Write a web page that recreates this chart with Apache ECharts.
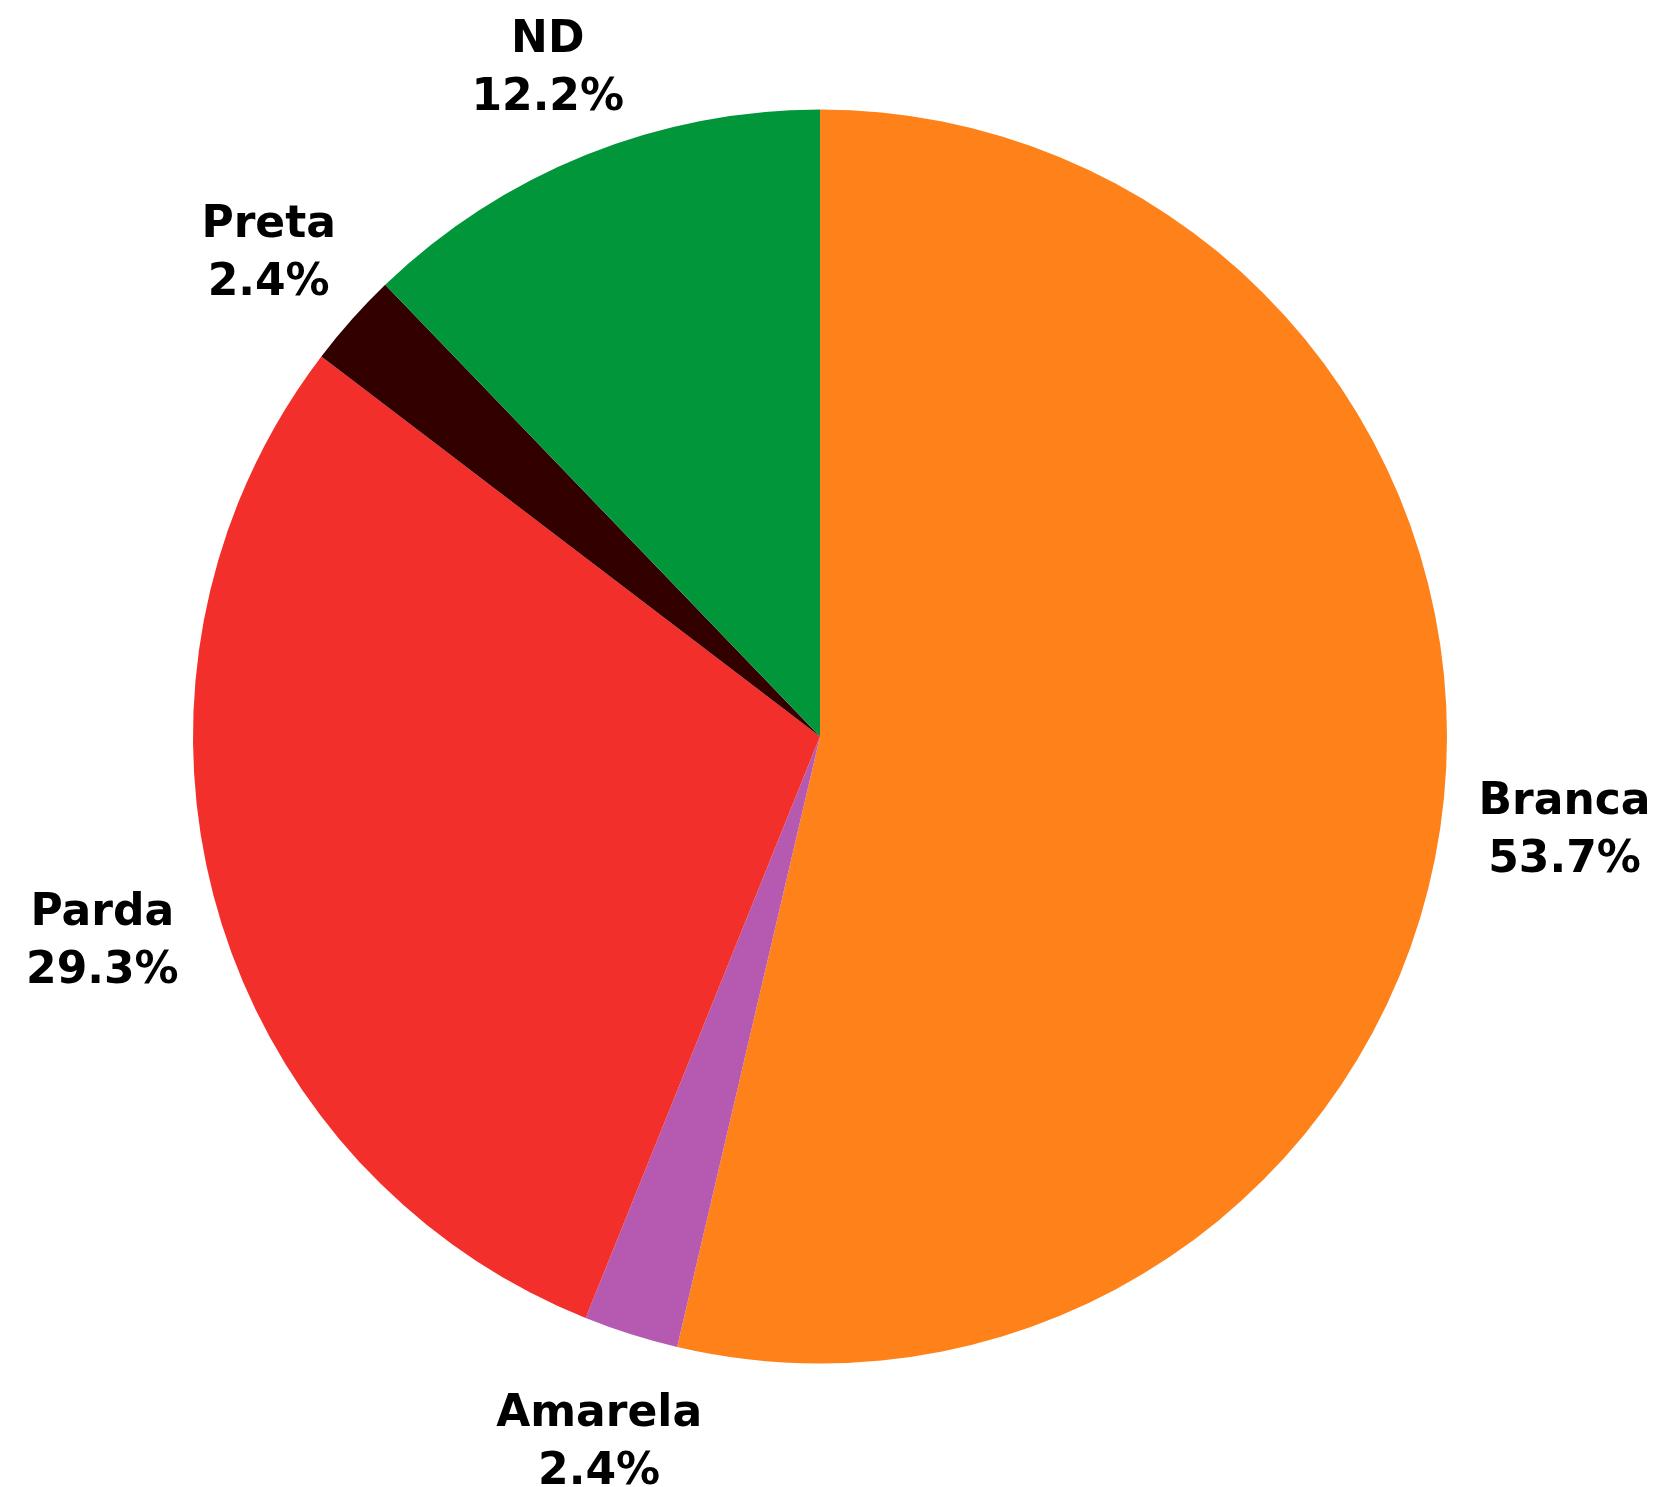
<!DOCTYPE html>
<html>
<head>
<meta charset="utf-8">
<style>
  html, body { margin: 0; padding: 0; background: #ffffff; }
  #chart { width: 1663px; height: 1487px; }
</style>
<script src="https://cdn.jsdelivr.net/npm/echarts@6/dist/echarts.min.js"></script>
</head>
<body>
<div id="chart"></div>
<script>
const categories = ['Branca', 'Amarela', 'Parda', 'Preta', 'ND'];
const counts = [22, 1, 12, 1, 5];
const colors = ['#fe8119', '#b55ab0', '#f22f2a', '#330000', '#02963a'];

const pieData = categories.map((name, i) => ({
  name: name,
  value: counts[i],
  itemStyle: { color: colors[i] }
}));

const chart = echarts.init(document.getElementById('chart'), null, { renderer: 'canvas' });

const center = [820, 736.5];
const R = 627;
const GAP = 32;
const BASELINE_SHIFT = 9;

chart.setOption({
  backgroundColor: '#ffffff',
  animation: false,
  series: [
    {
      type: 'pie',
      center: center,
      radius: [0, R],
      startAngle: 90,
      clockwise: true,
      silent: true,
      label: { show: false },
      labelLine: { show: false },
      emphasis: { disabled: true },
      data: pieData
    },
    {
      type: 'pie',
      center: center,
      radius: [R * 1.08, R * 1.28],
      startAngle: 90,
      clockwise: true,
      silent: true,
      percentPrecision: 1,
      itemStyle: { color: 'rgba(0,0,0,0)' },
      emphasis: { disabled: true },
      labelLine: { show: false },
      label: {
        show: true,
        position: 'inside',
        formatter: p => '{n|' + p.name + '}\n{n|' + p.percent.toFixed(1) + '%}',
        rich: {
          n: {
            fontFamily: 'DejaVu Sans',
            fontWeight: 'bold',
            fontSize: 44,
            lineHeight: 58,
            color: '#000000',
            align: 'center'
          }
        }
      },
      labelLayout: function (p) {
        const r = p.labelRect;
        const lx = r.x + r.width / 2, ly = r.y + r.height / 2;
        const vx = lx - center[0], vy = ly - center[1];
        const dCur = Math.hypot(vx, vy);
        const ux = vx / dCur, uy = vy / dCur;
        const proj = Math.abs(ux) * r.width / 2 + Math.abs(uy) * (r.height / 2 - 7);
        const dNew = R + GAP + proj;
        return { dx: ux * (dNew - dCur), dy: uy * (dNew - dCur) + BASELINE_SHIFT };
      },
      data: categories.map((name, i) => ({ name: name, value: counts[i] }))
    }
  ]
});
</script>
</body>
</html>
